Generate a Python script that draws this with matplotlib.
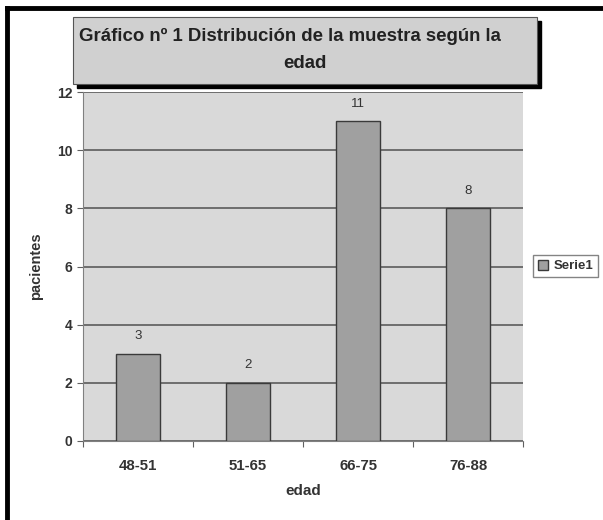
import matplotlib
matplotlib.use("Agg")
import matplotlib.pyplot as plt
from matplotlib.patches import Rectangle
from matplotlib.lines import Line2D

categories = ["48-51", "51-65", "66-75", "76-88"]
pacientes = [3, 2, 11, 8]
y_ticks = [0, 2, 4, 6, 8, 10, 12]

plt.rcParams["font.family"] = ["Liberation Sans", "DejaVu Sans"]
plt.rcParams["font.weight"] = "bold"
plt.rcParams["axes.labelweight"] = "bold"

W, H = 603, 520
fig = plt.figure(figsize=(W / 100, H / 100), dpi=100)
fig.patch.set_facecolor("white")

# outer frame (only left and top edges are in view)
fig.add_artist(Line2D([7 / W, 7 / W], [0, 1 - 8 / H], color="black", lw=3.5))
fig.add_artist(Line2D([7 / W, 1], [1 - 8 / H, 1 - 8 / H], color="black", lw=3.5))

ax = fig.add_axes([83 / W, 1 - 441 / H, (523 - 83) / W, (441 - 92) / H])
ax.set_facecolor("#d9d9d9")
x = range(len(categories))
bars = ax.bar(x, pacientes, width=0.4, color="#a0a0a0", edgecolor="#3a3a3a",
              linewidth=1.0, zorder=3, label="Serie1")
for xi, v in zip(x, pacientes):
    ax.text(xi, v + 0.6, str(v), ha="center", va="center", fontsize=9.5,
            color="#333333", fontweight="normal")

ax.set_xlim(-0.5, len(categories) - 0.5)
ax.set_ylim(0, 12)
ax.set_yticks(y_ticks)
ax.set_xticks([i - 0.5 for i in range(len(categories) + 1)])
ax.set_xticklabels([""] * (len(categories) + 1))
ax.set_xticks(list(x), minor=True)
ax.set_xticklabels(categories, minor=True, fontsize=10.8, color="#333333")
ax.tick_params(axis="x", which="minor", length=0, pad=13)
ax.tick_params(axis="x", which="major", length=4, color="#606060")
ax.tick_params(axis="y", length=4, labelsize=10, color="#606060",
               labelcolor="#333333")
ax.yaxis.grid(True, color="#6e6e6e", linewidth=1.4, zorder=1)
ax.set_axisbelow(True)
for side in ["top", "right"]:
    ax.spines[side].set_visible(False)
ax.spines["left"].set_color("#808080")
ax.spines["bottom"].set_color("#808080")

ax.set_xlabel("edad", fontsize=11, labelpad=8, color="#333333")
ax.set_ylabel("pacientes", fontsize=10.5, labelpad=10, color="#333333")

# title box with drop shadow
fig.add_artist(Rectangle((77 / W, 1 - 88 / H), (541 - 77) / W, (88 - 21) / H,
                         transform=fig.transFigure, facecolor="black",
                         edgecolor="black"))
fig.add_artist(Rectangle((73 / W, 1 - 84 / H), (537 - 73) / W, (84 - 17) / H,
                         transform=fig.transFigure, facecolor="#d0d0d0",
                         edgecolor="#555555", lw=0.8))
fig.text(290 / W, 1 - 36 / H, "Gráfico nº 1 Distribución de la muestra según la",
         ha="center", va="center", fontsize=13.4, color="#222222")
fig.text(305 / W, 1 - 63 / H, "edad",
         ha="center", va="center", fontsize=13.4, color="#222222")

leg = fig.legend(handles=[bars], labels=["Serie1"],
                 loc="center left", bbox_to_anchor=(533 / W, 1 - 266 / H),
                 prop={"size": 9.5, "weight": "bold"}, frameon=True,
                 fancybox=False, handlelength=0.8, handleheight=0.8,
                 handletextpad=0.4, borderpad=0.35, borderaxespad=0)
leg.get_frame().set_edgecolor("#666666")
for t in leg.get_texts():
    t.set_color("#333333")

fig.savefig("out.png", dpi=100)
